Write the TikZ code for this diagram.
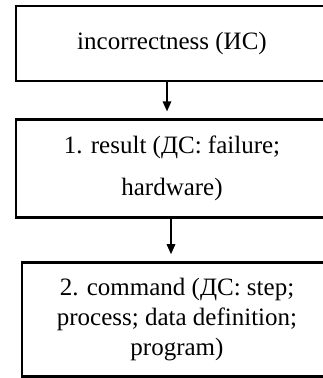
\documentclass[tikz,border=0pt]{standalone}
\usepackage{fontspec}
\setmainfont{Liberation Serif}
\usetikzlibrary{arrows.meta,positioning}

\begin{document}
\begin{tikzpicture}[x=1pt,y=1pt,
  box/.style={draw,line width=2.8pt,align=center,inner sep=0pt,
    font=\fontsize{25}{30}\selectfont},
  arr/.style={-{Triangle[length=10pt,width=8.5pt]},line width=1.5pt,shorten >=7pt}]
\useasboundingbox (0,0) rectangle (323,378);
\node[box,minimum width=312pt,minimum height=75pt] (inc) at (172,334.5)
{incorrectness (ИС)};
\node[box,minimum width=312pt,minimum height=98pt,below=36pt of inc,
  font=\fontsize{25}{42}\selectfont] (res)
{1. result (ДС: failure;\\ hardware)};
\node[box,minimum width=310pt,minimum height=114pt,below=42pt of res,xshift=5pt] (cmd)
{2. command (ДС: step;\\ process; data definition;\\ program)};
\draw[arr] ([xshift=-5pt]inc.south) -- ([xshift=-5pt]inc.south |- res.north);
\draw[arr] ([xshift=-1pt]res.south) -- ([xshift=-1pt]res.south |- cmd.north);
\end{tikzpicture}
\end{document}
